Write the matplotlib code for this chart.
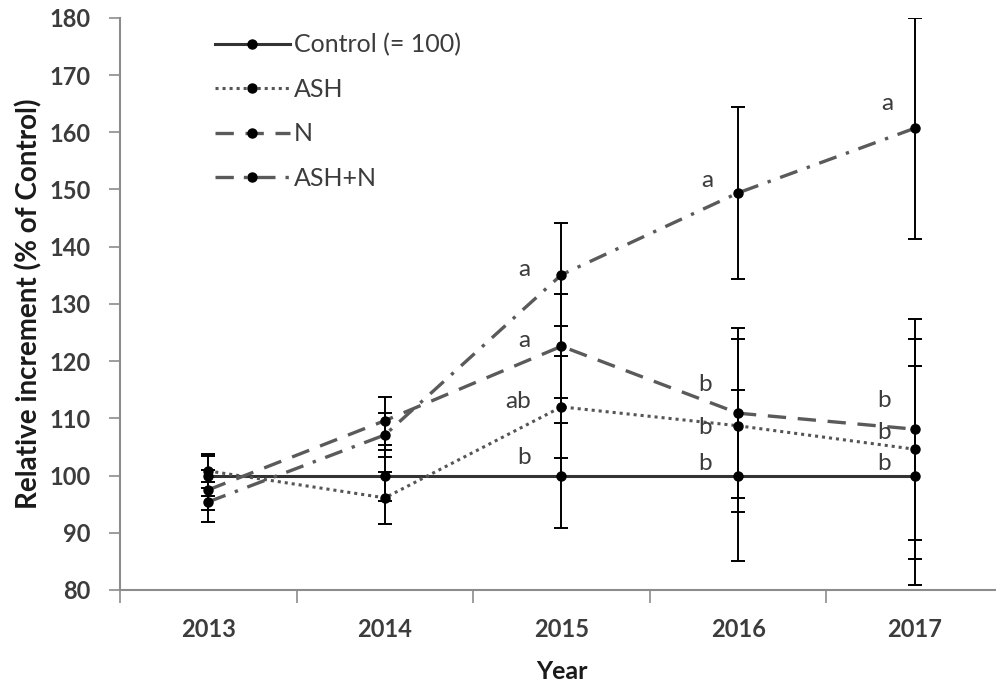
import matplotlib
matplotlib.use("Agg")
import matplotlib.pyplot as plt
from matplotlib.ticker import FixedLocator, NullFormatter

# ---- data -------------------------------------------------------------
years = ["2013", "2014", "2015", "2016", "2017"]

control = [100.0, 100.0, 100.0, 100.0, 100.0]
control_err = [3.5, 4.5, 9.1, 15.0, 19.2]

ash = [100.8, 96.1, 112.0, 108.7, 104.6]
ash_err = [3.0, 4.5, 8.9, 15.1, 19.2]

n = [97.5, 109.6, 122.6, 110.9, 108.1]
n_err = [3.5, 4.2, 9.1, 14.9, 19.3]

ash_n = [95.4, 107.1, 135.1, 149.4, 160.7]
ash_n_err = [3.5, 3.9, 9.0, 15.0, 19.3]

# significance letters per year for each treatment
letters_control = ["", "", "b", "b", "b"]
letters_ash = ["", "", "ab", "b", "b"]
letters_n = ["", "", "a", "b", "b"]
letters_ash_n = ["", "", "a", "a", "a"]

series_labels = ["Control (= 100)", "ASH", "N", "ASH+N"]

# ---- styling ----------------------------------------------------------
plt.rcParams["font.family"] = ["Lato", "DejaVu Sans"]
text_col = "#3c3c3c"
spine_col = "#8c8c8c"

fig = plt.figure(figsize=(9.96, 6.86), dpi=100)
ax = fig.add_axes([0.1205, 0.140, 0.8865, 0.834])

x = list(range(len(years)))

styles = [
    dict(data=control, err=control_err, ls="-", color="#333333", lw=2.2),
    dict(data=ash, err=ash_err, ls=(0, (1.0, 1.3)), color="#555555", lw=2.2),
    dict(data=n, err=n_err, ls=(0, (5.5, 3.5)), color="#5a5a5a", lw=2.4),
    dict(data=ash_n, err=ash_n_err, ls=(0, (5.5, 3.0, 1.0, 3.0)), color="#5a5a5a", lw=2.4),
]

handles = []
for st, lab in zip(styles, series_labels):
    ax.errorbar(x, st["data"], yerr=st["err"], fmt="none", ecolor="black",
                elinewidth=1.4, capsize=4.8, capthick=1.4, zorder=2)
    h, = ax.plot(x, st["data"], linestyle=st["ls"], color=st["color"],
                 lw=st["lw"], marker="o", markersize=6.5,
                 markerfacecolor="black", markeredgecolor="black",
                 label=lab, zorder=3)
    handles.append(h)

# significance letters, offset (points) from each mean
offsets = {
    "control": [(0, 0), (0, 0), (-27, 13), (-24, 9), (-22, 9)],
    "ash": [(0, 0), (0, 0), (-31, 4), (-24, -1), (-22, 12)],
    "n": [(0, 0), (0, 0), (-27, 4), (-24, 21), (-22, 21)],
    "ash_n": [(0, 0), (0, 0), (-27, 4), (-22, 9), (-20, 18)],
}
for key, vals, lets in [("control", control, letters_control),
                        ("ash", ash, letters_ash),
                        ("n", n, letters_n),
                        ("ash_n", ash_n, letters_ash_n)]:
    for i, (v, t) in enumerate(zip(vals, lets)):
        if t:
            ax.annotate(t, xy=(i, v), xytext=offsets[key][i],
                        textcoords="offset points", ha="center", va="center",
                        fontsize=17.5, color=text_col, zorder=4)

# ---- axes -------------------------------------------------------------
ax.set_xlim(-0.5, 4.5)
ax.set_ylim(80, 180)
ax.set_yticks(range(80, 181, 10))
ax.set_xticks(x)
ax.set_xticklabels(years)
ax.xaxis.set_minor_locator(FixedLocator([i - 0.5 for i in range(len(years) + 1)]))
ax.xaxis.set_minor_formatter(NullFormatter())
ax.tick_params(axis="x", which="major", length=0, pad=20,
               labelsize=17, labelcolor=text_col)
ax.tick_params(axis="x", which="minor", length=9, width=1.2, color=spine_col,
               direction="out")
ax.tick_params(axis="y", length=8, width=1.2, color=spine_col, direction="out",
               labelsize=17, labelcolor=text_col, pad=13)
for lbl in ax.get_xticklabels() + ax.get_yticklabels():
    lbl.set_fontweight("bold")

for s in ["top", "right"]:
    ax.spines[s].set_visible(False)
for s in ["left", "bottom"]:
    ax.spines[s].set_color(spine_col)
    ax.spines[s].set_linewidth(1.5)

ax.set_xlabel("Year", fontsize=18, fontweight="bold", color="#1a1a1a",
              labelpad=14)
ax.set_ylabel("Relative increment (% of Control)", fontsize=20,
              fontweight="bold", color="#1a1a1a", labelpad=5)

leg = ax.legend(handles=handles, loc="upper left",
                bbox_to_anchor=(0.082, 1.012), frameon=False,
                fontsize=18, handlelength=3.0, handletextpad=0.15,
                labelspacing=0.85, markerscale=1.0)
for t in leg.get_texts():
    t.set_color(text_col)

fig.savefig("out.png", dpi=100)
